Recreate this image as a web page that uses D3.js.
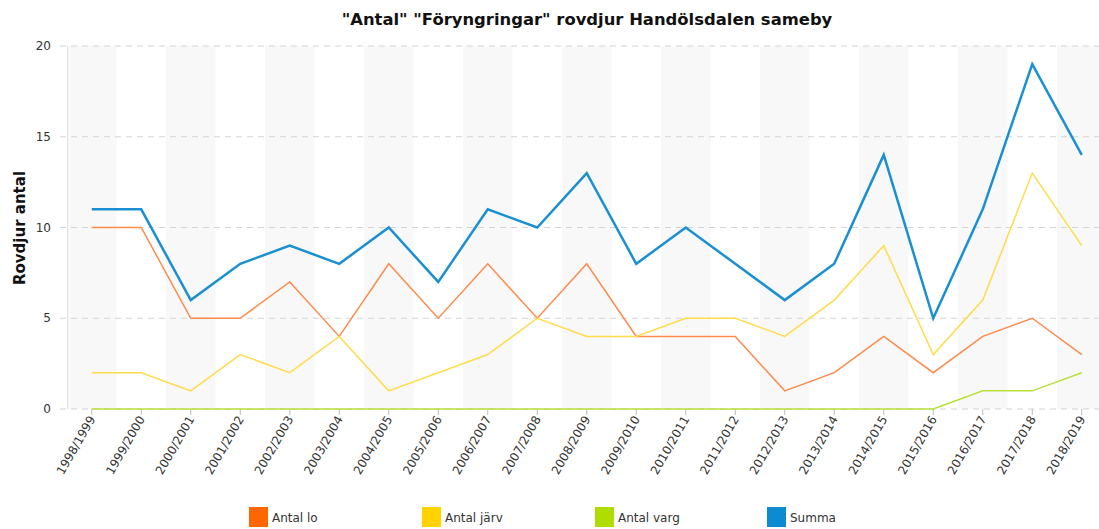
<!DOCTYPE html>
<html><head><meta charset="utf-8">
<script src="https://cdn.jsdelivr.net/npm/d3@7"></script>
<style>body{margin:0;background:#fff;} svg{display:block;font-family:"DejaVu Sans",Verdana,sans-serif;}</style>
</head><body>
<svg id="c" width="1099" height="529"></svg>
<script>
const categories = ["1998/1999","1999/2000","2000/2001","2001/2002","2002/2003","2003/2004","2004/2005","2005/2006","2006/2007","2007/2008","2008/2009","2009/2010","2010/2011","2011/2012","2012/2013","2013/2014","2014/2015","2015/2016","2016/2017","2017/2018","2018/2019"];
const antalLo   = [10,10,5,5,7,4,8,5,8,5,8,4,4,4,1,2,4,2,4,5,3];
const antalJarv = [2,2,1,3,2,4,1,2,3,5,4,4,5,5,4,6,9,3,6,13,9];
const antalVarg = [0,0,0,0,0,0,0,0,0,0,0,0,0,0,0,0,0,0,1,1,2];
const summa     = [11,11,6,8,9,8,10,7,11,10,13,8,10,8,6,8,14,5,11,19,14];
const yTicks = [0,5,10,15,20];
const title = '"Antal" "Föryngringar" rovdjur Handölsdalen sameby';
const yLabel = "Rovdjur antal";

const series = [
  {name:"Antal lo", values:antalLo, color:"#ff6600", line:"#ff8a4c", w:1.5},
  {name:"Antal järv", values:antalJarv, color:"#ffd200", line:"#ffdc4a", w:1.5},
  {name:"Antal varg", values:antalVarg, color:"#b0dd00", line:"#b8e03a", w:1.5},
  {name:"Summa", values:summa, color:"#0e8bd0", line:"#1a90d2", w:2.5}
];

const svg = d3.select("#c");
const plotLeft = 67, bandW = 49.5, plotTop = 46, plotBottom = 409;
const x = d3.scaleBand().domain(categories).range([plotLeft, plotLeft + bandW*categories.length]).padding(0);
const y = d3.scaleLinear().domain([0,20]).range([plotBottom, plotTop]);
const cx = d => x(d) + x.bandwidth()/2;

// alternating bands
svg.append("g").selectAll("rect").data(categories.filter((d,i)=>i%2===0)).join("rect")
  .attr("x", d=>x(d)).attr("y", plotTop).attr("width", x.bandwidth()).attr("height", plotBottom-plotTop)
  .attr("fill", "#f8f8f8");

// gridlines
svg.append("g").selectAll("line").data(yTicks).join("line")
  .attr("x1", 60).attr("x2", 1099).attr("y1", d=>y(d)).attr("y2", d=>y(d))
  .attr("stroke", "#d4d4d4").attr("stroke-dasharray", "6,5").attr("stroke-width",1);

// y axis line
svg.append("line").attr("x1", plotLeft+0.5).attr("x2", plotLeft+0.5).attr("y1", plotTop).attr("y2", plotBottom)
  .attr("stroke", "#e0e0e0");

// y tick labels
svg.append("g").selectAll("text").data(yTicks).join("text")
  .attr("x", 51).attr("y", d=>y(d)+4).attr("text-anchor","end")
  .attr("font-size", 12).attr("fill", "#333").text(d=>d);

// x ticks
const xg = svg.append("g");
xg.selectAll("line").data(categories).join("line")
  .attr("x1", d=>cx(d)).attr("x2", d=>cx(d)).attr("y1", plotBottom).attr("y2", plotBottom+6)
  .attr("stroke", "#bbb");
xg.selectAll("text").data(categories).join("text")
  .attr("transform", d=>`translate(${cx(d)+4},${plotBottom+10}) rotate(-60)`)
  .attr("text-anchor","end").attr("font-size", 12).attr("fill","#333").text(d=>d);

// lines
const line = d3.line().x((v,i)=>cx(categories[i])).y(v=>y(v));
series.forEach(s=>{
  svg.append("path").datum(s.values).attr("d", line).attr("fill","none")
    .attr("stroke", s.line).attr("stroke-width", s.w).attr("stroke-linejoin","miter");
});

// title
svg.append("text").attr("x", 587).attr("y", 25).attr("text-anchor","middle")
  .attr("font-size", 16.4).attr("font-weight","bold").attr("fill","#111").text(title);

// y label
svg.append("text").attr("transform","translate(25,228) rotate(-90)").attr("text-anchor","middle")
  .attr("font-size", 15).attr("font-weight","bold").attr("fill","#111").text(yLabel);

// legend
const legX = [249, 422, 595, 767];
const lg = svg.append("g");
series.forEach((s,i)=>{
  lg.append("rect").attr("x", legX[i]).attr("y", 507).attr("width", 19).attr("height", 20).attr("fill", s.color);
  lg.append("text").attr("x", legX[i]+23).attr("y", 522).attr("font-size", 12).attr("fill","#333").text(s.name);
});
</script>
</body></html>
